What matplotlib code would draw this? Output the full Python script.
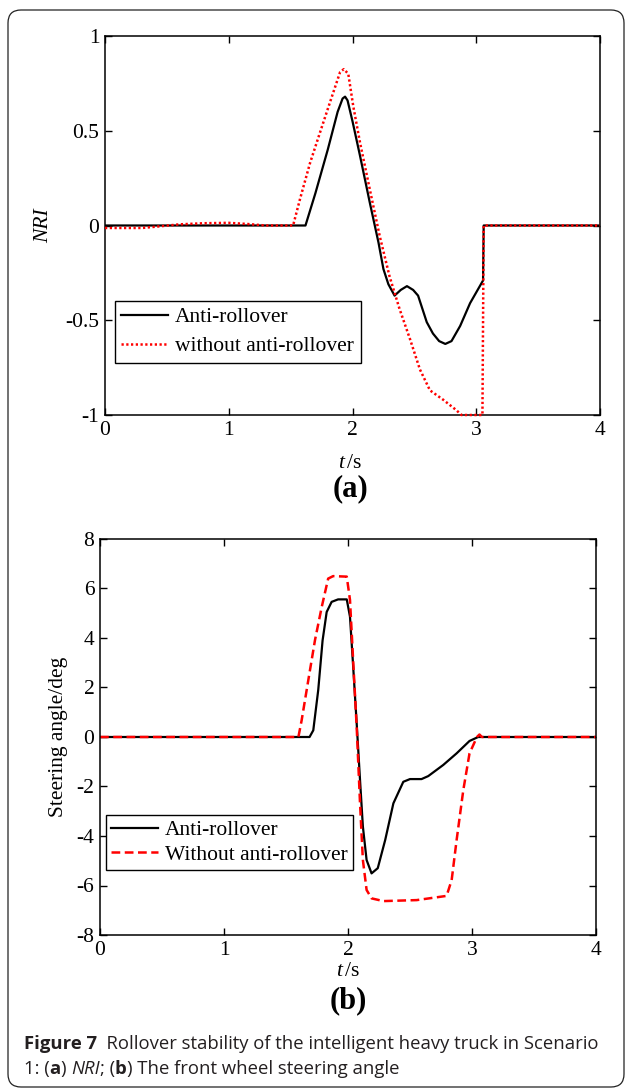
import matplotlib
matplotlib.use("Agg")
import matplotlib.pyplot as plt
from matplotlib.patches import FancyBboxPatch
from matplotlib.transforms import IdentityTransform

plt.rcParams['font.family'] = ['Liberation Serif', 'DejaVu Serif']
plt.rcParams['mathtext.fontset'] = 'custom'
plt.rcParams['mathtext.rm'] = 'Liberation Serif'
plt.rcParams['mathtext.it'] = 'Liberation Serif:italic'
plt.rcParams['axes.unicode_minus'] = False

# --- (a) NRI ---
t_nri_anti = [0, 1.62, 1.70, 1.80, 1.88, 1.92, 1.94, 1.96, 2.00, 2.06, 2.14, 2.21, 2.25,
              2.29, 2.34, 2.39, 2.44, 2.49, 2.53, 2.60, 2.65, 2.70, 2.75, 2.80, 2.87,
              2.95, 3.02, 3.055, 3.06, 4.0]
nri_anti = [0, 0, 0.17, 0.40, 0.60, 0.67, 0.68, 0.66, 0.55, 0.37, 0.12, -0.09, -0.23,
            -0.31, -0.37, -0.34, -0.32, -0.34, -0.37, -0.51, -0.57, -0.61, -0.625, -0.61, -0.53,
            -0.41, -0.33, -0.29, 0, 0]

t_nri_without = [0, 0.3, 0.45, 0.6, 0.8, 1.0, 1.15, 1.3, 1.52, 1.576, 1.657, 1.737, 1.818,
                 1.90, 1.93, 1.966, 2.006, 2.06, 2.14, 2.22, 2.30, 2.38, 2.465, 2.545,
                 2.626, 2.734, 2.84, 2.88, 3.05, 3.06, 4.0]
nri_without = [-0.013, -0.013, -0.004, 0.006, 0.012, 0.014, 0.008, 0.0, 0.0, 0.14, 0.33, 0.49, 0.65,
               0.81, 0.825, 0.80, 0.63, 0.44, 0.19, -0.056, -0.27, -0.44, -0.60, -0.76,
               -0.87, -0.92, -0.975, -1.0, -1.0, 0, 0]

nri_ticks = [-1, -0.5, 0, 0.5, 1]
nri_ticklabels = ['-1', '-0.5', '0', '0.5', '1']

# --- (b) front wheel steering angle ---
t_steer_anti = [0, 1.69, 1.72, 1.76, 1.795, 1.828, 1.868, 1.92, 1.99, 2.016, 2.04, 2.07,
                2.097, 2.12, 2.15, 2.19, 2.24, 2.30, 2.366, 2.446, 2.50, 2.593, 2.647,
                2.768, 2.876, 2.98, 3.05, 4.0]
steer_anti = [0, 0, 0.27, 1.9, 3.9, 5.05, 5.46, 5.56, 5.56, 4.86, 2.98, 0.55,
              -1.74, -3.62, -4.97, -5.51, -5.3, -4.16, -2.68, -1.81, -1.70, -1.70, -1.58,
              -1.13, -0.66, -0.16, 0, 0]

t_steer_without = [0, 1.60, 1.626, 1.68, 1.734, 1.788, 1.84, 1.88, 1.99, 2.016, 2.04, 2.07,
                   2.097, 2.12, 2.15, 2.19, 2.285, 2.554, 2.795, 2.836, 2.876, 2.93, 2.98,
                   3.04, 3.06, 3.08, 4.0]
steer_without = [0, 0, 0.67, 2.3, 3.92, 5.25, 6.4, 6.5, 6.48, 5.54, 3.24, 0.41,
                 -2.68, -4.97, -6.18, -6.52, -6.63, -6.59, -6.42, -5.78, -4.16, -2.14, -0.66,
                 0.0, 0.1, 0, 0]

steer_ticks = [-8, -6, -4, -2, 0, 2, 4, 6, 8]
time_ticks = [0, 1, 2, 3, 4]

W, H = 627, 1090
FS = 15.5
fig = plt.figure(figsize=(W / 100, H / 100), dpi=100)

# рамка вокруг всей фигуры
frame = FancyBboxPatch((8, 3), 616, 1077, boxstyle="round,pad=0,rounding_size=13",
                       transform=IdentityTransform(), fill=False, edgecolor='#222222',
                       linewidth=0.9)
fig.add_artist(frame)


def px_axes(left, top, right, bottom):
    return fig.add_axes([left / W, 1 - bottom / H, (right - left) / W, (bottom - top) / H])


def style_axes(ax):
    ax.tick_params(direction='in', top=True, right=True, length=5, width=1,
                   labelsize=FS, pad=4)
    for s in ax.spines.values():
        s.set_linewidth(1.1)


ax1 = px_axes(105, 36, 600, 415)
ax1.plot(t_nri_anti, nri_anti, color='black', lw=1.6, label='Anti-rollover')
ax1.plot(t_nri_without, nri_without, color='red', lw=1.8, ls=(0, (0.9, 1.0)),
         label='without anti-rollover', clip_on=False, zorder=3)
ax1.set_xlim(0, 4)
ax1.set_ylim(-1, 1)
ax1.set_xticks(time_ticks)
ax1.set_yticks(nri_ticks)
ax1.set_yticklabels(nri_ticklabels)
style_axes(ax1)
ax1.set_ylabel('NRI', fontsize=FS, style='italic')
ax1.yaxis.set_label_coords(-0.105, 0.5)
leg1 = ax1.legend(loc='lower left', bbox_to_anchor=(0.02, 0.138), fontsize=FS,
                  fancybox=False, framealpha=1, edgecolor='black', handlelength=2.15,
                  borderpad=0.3, labelspacing=0.42, handletextpad=0.35, borderaxespad=0)
leg1.get_frame().set_linewidth(1.0)

ax2 = px_axes(100, 539, 596, 935)
ax2.plot(t_steer_anti, steer_anti, color='black', lw=1.6, label='Anti-rollover')
ax2.plot(t_steer_without, steer_without, color='red', lw=1.8, ls=(0, (3.5, 1.8)),
         label='Without anti-rollover')
ax2.set_xlim(0, 4)
ax2.set_ylim(-8, 8)
ax2.set_xticks(time_ticks)
ax2.set_yticks(steer_ticks)
style_axes(ax2)
ax2.set_ylabel('Steering angle/deg', fontsize=FS)
ax2.yaxis.set_label_coords(-0.065, 0.5)
leg2 = ax2.legend(loc='lower left', bbox_to_anchor=(0.012, 0.164), fontsize=FS,
                  fancybox=False, framealpha=1, edgecolor='black', handlelength=2.15,
                  borderpad=0.25, labelspacing=0.2, handletextpad=0.35, borderaxespad=0)
leg2.get_frame().set_linewidth(1.0)

# подписи осей и панелей
fig.text(350 / W, 1 - 463 / H, r'$\mathit{t}\,$/s', ha='center', va='center', fontsize=FS)
fig.text(350 / W, 1 - 489 / H, '(a)', ha='center', va='center', fontsize=22, weight='bold')
fig.text(348 / W, 1 - 971 / H, r'$\mathit{t}\,$/s', ha='center', va='center', fontsize=FS)
fig.text(348 / W, 1 - 1001 / H, '(b)', ha='center', va='center', fontsize=22, weight='bold')

# подпись рисунка, собираем по кусочкам
renderer = fig.canvas.get_renderer()
cap_font = ['Open Sans', 'DejaVu Sans']
cap_size = 13.3


def put_line(x, y, pieces):
    for txt, kw in pieces:
        t = fig.text(x, H - y, txt, transform=IdentityTransform(), ha='left',
                     va='baseline', fontsize=cap_size, family=cap_font,
                     color='#231f20', **kw)
        x += t.get_window_extent(renderer).width
    return x


put_line(24, 1049, [('Figure 7', {'weight': 'bold'}),
                    ('  Rollover stability of the intelligent heavy truck in Scenario', {})])
put_line(24, 1074, [('1: (', {}), ('a', {'weight': 'bold'}), (') ', {}),
                    ('NRI', {'style': 'italic'}), ('; (', {}), ('b', {'weight': 'bold'}),
                    (') The front wheel steering angle', {})])

fig.savefig('out.png', dpi=100)
